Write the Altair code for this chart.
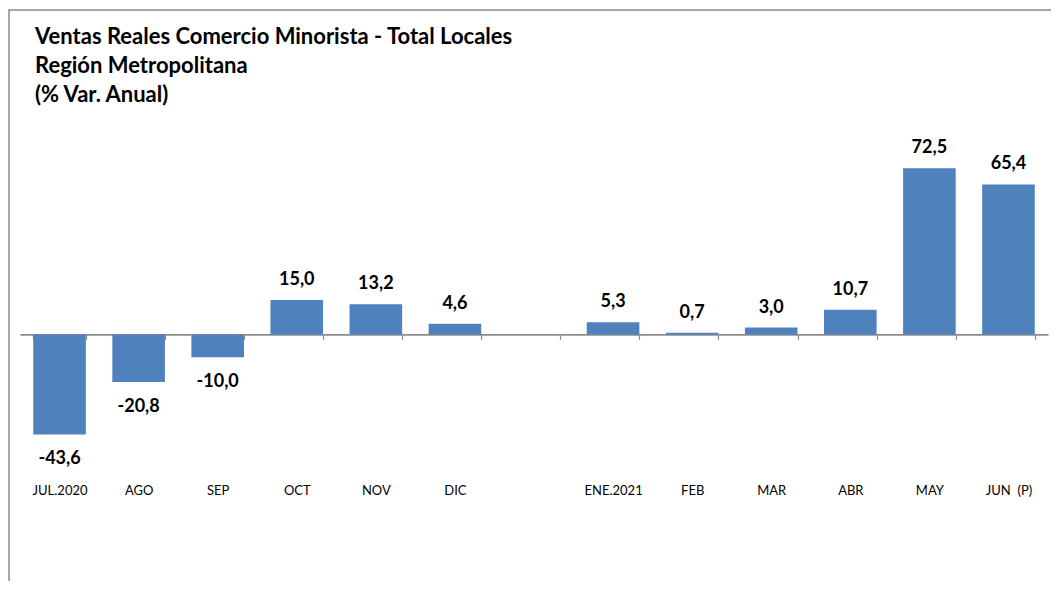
import altair as alt
import pandas as pd

categories = ["JUL.2020", "AGO", "SEP", "OCT", "NOV", "DIC", " ",
              "ENE.2021", "FEB", "MAR", "ABR", "MAY", "JUN\u00a0\u00a0(P)"]
values = [-43.6, -20.8, -10.0, 15.0, 13.2, 4.6, None,
          5.3, 0.7, 3.0, 10.7, 72.5, 65.4]
title_lines = ["Ventas Reales Comercio Minorista - Total Locales",
               "Región Metropolitana",
               "(% Var. Anual)"]

labels = [None if v is None else f"{v:.1f}".replace(".", ",") for v in values]
df = pd.DataFrame({"cat": categories, "value": values, "label": labels})

W, H = 1028, 344
Y_MIN, Y_MAX = -60, 90
zero_from_bottom = H * (0 - Y_MIN) / (Y_MAX - Y_MIN)

xscale = alt.Scale(domain=categories, paddingInner=0.335, paddingOuter=0.1675)
yscale = alt.Scale(domain=[Y_MIN, Y_MAX], nice=False, zero=False)

x_axis = alt.Axis(orient="bottom", offset=-zero_from_bottom, tickBand="extent",
                  domainColor="#8c8c8c", domainWidth=1.6, tickColor="#8c8c8c",
                  tickSize=5, tickWidth=1.2, labelPadding=145, labelFont="Lato",
                  labelFontSize=13, labelColor="#000000", labelAngle=0, title=None)

base = alt.Chart(df)

bars = base.mark_bar(color="#4F81BD").encode(
    x=alt.X("cat:N", scale=xscale, axis=x_axis, sort=categories),
    y=alt.Y("value:Q", scale=yscale, axis=None),
)

pos_text = base.transform_filter("datum.value != null && datum.value >= 0").mark_text(
    font="Lato", fontSize=18, fontWeight="bold", color="#000000",
    baseline="middle", dy=-20
).encode(
    x=alt.X("cat:N", scale=xscale, sort=categories),
    y=alt.Y("value:Q", scale=yscale),
    text="label:N",
)

neg_text = base.transform_filter("datum.value != null && datum.value < 0").mark_text(
    font="Lato", fontSize=18, fontWeight="bold", color="#000000",
    baseline="middle", dy=25
).encode(
    x=alt.X("cat:N", scale=xscale, sort=categories),
    y=alt.Y("value:Q", scale=yscale),
    text="label:N",
)

frame = alt.Chart(pd.DataFrame({"a": [0]})).mark_rect(
    fill=None, stroke="#8c8c8c", strokeWidth=1.5, clip=False
).encode(
    x=alt.value(-11), x2=alt.value(1100), y=alt.value(-118), y2=alt.value(700)
)

chart = alt.layer(frame, bars, pos_text, neg_text).properties(
    width=W, height=H,
    autosize=alt.AutoSizeParams(type="none"),
    padding={"left": 12, "top": 120, "right": 3, "bottom": 109},
    title=alt.TitleParams(text=title_lines, anchor="start", frame="group",
                          font="Lato", fontSize=22, fontWeight="bold",
                          color="#000000", lineHeight=29, dx=15, offset=-120,
                          baseline="bottom"),
).configure_view(stroke=None)

chart.save("out.html", embed_options={"renderer": "svg", "actions": False})
